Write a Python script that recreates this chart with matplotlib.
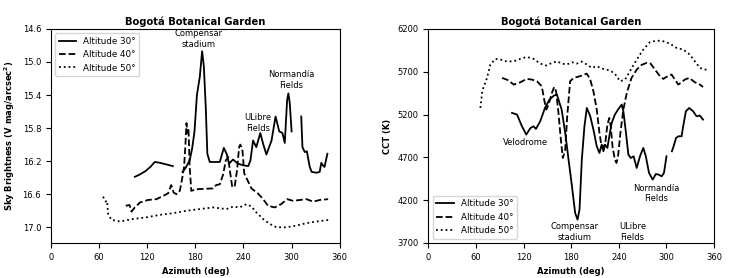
import numpy as np
import matplotlib
matplotlib.use("Agg")
import matplotlib.pyplot as plt

# ---------------------------------------------------------------------------
# sky brightness (left panel)

sb30_az_a = [104.6, 111, 118, 124, 129.5, 136, 144, 152]
sb30_a = [16.39, 16.36, 16.32, 16.27, 16.21, 16.22, 16.24, 16.26]
sb30_az_b = [164, 168, 173, 176, 179, 182, 185.6, 188.5, 190.6, 193, 195, 198,
             204, 210.5, 215.5, 219, 222, 227, 233, 239.6, 246, 248.7, 252,
             256, 261, 264.5, 268.6, 275, 280, 284.6, 288.6, 291.5, 294.4,
             296, 297.7, 300]
sb30_b = [16.33, 16.28, 16.19, 16.05, 15.84, 15.4, 15.18, 14.87, 15.05, 15.54,
          16.11, 16.21, 16.21, 16.21, 16.04, 16.11, 16.23, 16.18, 16.23,
          16.25, 16.26, 16.19, 15.95, 16.03, 15.86, 15.99, 16.12, 15.95,
          15.66, 15.84, 15.86, 15.98, 15.46, 15.38, 15.5, 15.84]
sb30_az_c = [312, 313.5, 316.4, 319, 322.6, 325, 331, 335, 337, 339, 341, 344.6]
sb30_c = [15.66, 16.03, 16.09, 16.08, 16.27, 16.33, 16.34, 16.33, 16.22,
          16.25, 16.27, 16.11]

sb40_az = [93.4, 98, 100.5, 104.6, 111, 121, 131.6, 140, 146, 150, 153, 156.5,
           160.7, 164, 166, 167.7, 169, 170, 171.5, 173, 175, 181, 202, 206,
           210.5, 214.7, 218, 221, 223, 226, 229, 232, 234.6, 236, 238.6, 241,
           244, 250, 258, 264.5, 270.6, 279, 287, 294.4, 302, 310, 318.5,
           326.8, 335, 345.5]
sb40 = [16.74, 16.73, 16.81, 16.76, 16.7, 16.67, 16.66, 16.62, 16.59, 16.49,
        16.58, 16.6, 16.56, 16.39, 16.27, 16.0, 15.74, 15.86, 15.8, 16.27,
        16.56, 16.54, 16.53, 16.49, 16.48, 16.36, 16.19, 16.15, 16.31, 16.51,
        16.51, 16.31, 16.03, 16.0, 16.05, 16.35, 16.41, 16.53, 16.59, 16.66,
        16.74, 16.76, 16.72, 16.66, 16.68, 16.67, 16.66, 16.69, 16.67, 16.66]

sb50_az = [65, 68.5, 70, 71.4, 75.6, 86, 102.6, 119, 135.8, 152, 169, 185.6,
           202, 218.8, 227, 235, 244, 250, 256, 264.5, 272.8, 281, 293.5,
           306, 318.5, 331, 347.5]
sb50 = [16.63, 16.69, 16.68, 16.84, 16.91, 16.93, 16.9, 16.88, 16.85, 16.83,
        16.8, 16.78, 16.76, 16.78, 16.75, 16.76, 16.72, 16.75, 16.82, 16.9,
        16.96, 17.0, 17.0, 16.98, 16.95, 16.93, 16.91]

# ---------------------------------------------------------------------------
# CCT (right panel)

cct30_az_a = [105.5, 111.8, 118, 123.5, 128.5, 132.7, 135.6, 141, 147, 152.8,
              158, 162, 168, 172.5, 176.7, 181, 185, 188, 190.5, 193.4, 196.7,
              199.7, 204, 208, 212.2, 215.6, 218.5, 220.6, 222.7, 225.6, 228,
              231, 235, 239, 243.6, 245.7, 249, 252, 255, 258.6, 262.5, 266.6,
              270.8, 274, 278, 282.6, 286.7, 289.7, 294, 296.8, 300]
cct30_a = [5219, 5200, 5063, 4966, 5040, 5063, 5032, 5121, 5277, 5375, 5420,
           5433, 5258, 4985, 4673, 4362, 4050, 3973, 4089, 4673, 5063, 5277,
           5180, 5024, 4830, 4751, 4849, 4771, 4849, 4810, 4946, 5102, 5199,
           5258, 5316, 5238, 4985, 4732, 4693, 4712, 4576, 4712, 4810, 4712,
           4518, 4440, 4506, 4499, 4479, 4518, 4712]
cct30_az_b = [306.8, 309, 312, 315, 319, 321, 324.4, 328.6, 333.6, 337.8, 342,
              346]
cct30_b = [4771, 4830, 4927, 4946, 4946, 5063, 5238, 5277, 5238, 5180, 5188,
           5141]

cct40_az = [93, 101, 107.6, 116, 124, 130.6, 136.9, 143, 146, 148.6, 151.5,
            155.7, 158.6, 161, 164, 167, 169.5, 172.5, 175, 178.7, 183, 191,
            199.7, 204, 208, 212.2, 215.6, 218.5, 222.7, 225.6, 228, 229.8,
            232, 235, 237, 239, 242, 245.7, 250, 256, 262.5, 268.7, 275, 280,
            285.5, 291.8, 296, 300, 306.4, 310.6, 314.8, 319, 323, 328.6,
            335.7, 342, 346]
cct40 = [5628, 5600, 5550, 5577, 5616, 5608, 5589, 5530, 5375, 5258, 5316,
         5452, 5522, 5472, 5219, 4907, 4693, 4790, 5180, 5589, 5628, 5647,
         5678, 5608, 5472, 5258, 4985, 4810, 4849, 5083, 5160, 5063, 4830,
         4673, 4635, 4712, 4985, 5258, 5452, 5628, 5725, 5780, 5803, 5795,
         5725, 5647, 5616, 5640, 5667, 5608, 5550, 5577, 5608, 5628, 5577,
         5550, 5522]

cct50_az = [65.7, 67.8, 70, 72, 74, 78.3, 84.6, 91, 99, 107.6, 116, 124, 132.7,
            141, 149, 155.7, 162, 168, 174.5, 181, 187, 193, 199.7, 206, 212,
            220.6, 229, 235, 241.5, 247.8, 254, 262.5, 270.8, 279, 287.6, 296,
            304, 312.7, 321, 329.4, 335.7, 342, 348, 352]
cct50 = [5277, 5452, 5538, 5570, 5628, 5784, 5850, 5842, 5819, 5822, 5850,
         5873, 5850, 5795, 5772, 5803, 5822, 5795, 5784, 5811, 5795, 5819,
         5784, 5745, 5764, 5733, 5713, 5678, 5589, 5608, 5706, 5842, 5959,
         6044, 6064, 6056, 6029, 5978, 5959, 5900, 5822, 5745, 5725, 5725]

xticks = [0, 60, 120, 180, 240, 300, 360]
sb_ticks = [14.6, 15.0, 15.4, 15.8, 16.2, 16.6, 17.0]
cct_ticks = [3700, 4200, 4700, 5200, 5700, 6200]

plt.rcParams['font.size'] = 6
lw = 1.3

fig = plt.figure(figsize=(7.37, 2.78), dpi=100)
ax1 = fig.add_axes([0.069, 0.126, 0.392, 0.770])
ax2 = fig.add_axes([0.581, 0.126, 0.388, 0.770])

# left
ax1.plot(sb30_az_a, sb30_a, 'k-', lw=lw, label='Altitude 30°')
ax1.plot(sb30_az_b, sb30_b, 'k-', lw=lw)
ax1.plot(sb30_az_c, sb30_c, 'k-', lw=lw)
ax1.plot(sb40_az, sb40, 'k--', lw=lw, label='Altitude 40°')
ax1.plot(sb50_az, sb50, 'k:', lw=lw, label='Altitude 50°')
ax1.set_xlim(0, 360)
ax1.set_ylim(17.19, 14.6)
ax1.set_xticks(xticks)
ax1.set_yticks(sb_ticks)
ax1.set_xlabel("Azimuth (deg)", fontweight='bold')
ax1.set_ylabel("Sky Brightness (V mag/arcsec$^{\\mathbf{2}}$)", fontweight='bold')
ax1.set_title("Bogotá Botanical Garden", fontweight='bold', pad=3)
ax1.legend(loc='upper left', fontsize=6.3)
ax1.text(184, 14.72, "Compensar\nstadium", ha='center', va='center')
ax1.text(300, 15.22, "Normandía\nFields", ha='center', va='center')
ax1.text(258, 15.74, "ULibre\nFields", ha='center', va='center')

# right
ax2.plot(cct30_az_a, cct30_a, 'k-', lw=lw, label='Altitude 30°')
ax2.plot(cct30_az_b, cct30_b, 'k-', lw=lw)
ax2.plot(cct40_az, cct40, 'k--', lw=lw, label='Altitude 40°')
ax2.plot(cct50_az, cct50, 'k:', lw=lw, label='Altitude 50°')
ax2.set_xlim(0, 360)
ax2.set_ylim(3700, 6200)
ax2.set_xticks(xticks)
ax2.set_yticks(cct_ticks)
ax2.set_xlabel("Azimuth (deg)", fontweight='bold')
ax2.set_ylabel("CCT (K)", fontweight='bold')
ax2.set_title("Bogotá Botanical Garden", fontweight='bold', pad=3)
ax2.legend(loc='lower left', fontsize=6.3)
ax2.text(122, 4869, "Velodrome", ha='center', va='center')
ax2.text(184, 3828, "Compensar\nstadium", ha='center', va='center')
ax2.text(257, 3828, "ULibre\nFields", ha='center', va='center')
ax2.text(287, 4277, "Normandía\nFields", ha='center', va='center')

fig.savefig("out.png", dpi=100)
